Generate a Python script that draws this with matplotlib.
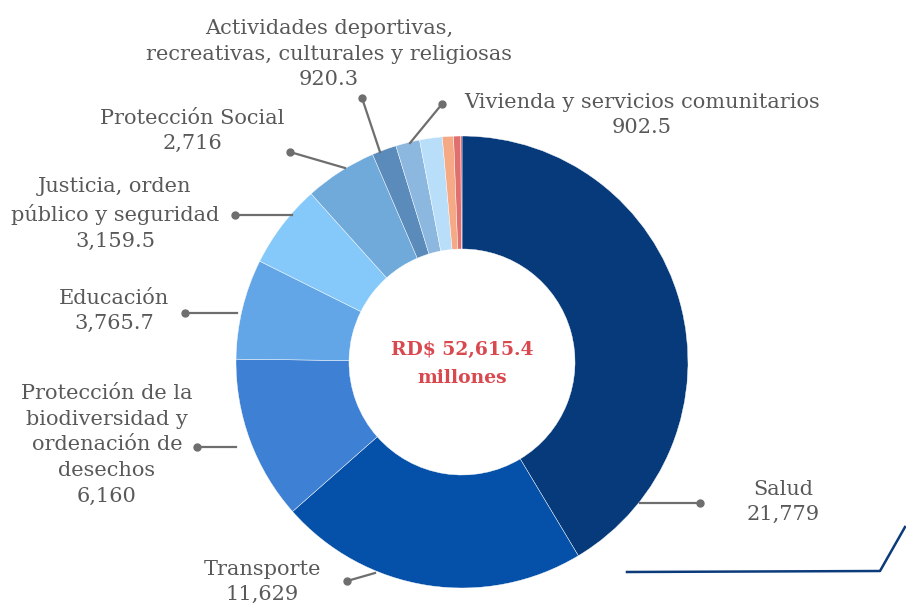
import numpy as np
import matplotlib.pyplot as plt

# datos (millones RD$), en el orden del anillo, desde arriba y en sentido horario
sectores = ["Salud", "Transporte",
            "Protección de la\nbiodiversidad y\nordenación de\ndesechos",
            "Educación", "Justicia, orden\npúblico y seguridad",
            "Protección Social",
            "Actividades deportivas,\nrecreativas, culturales y religiosas",
            "Vivienda y servicios comunitarios",
            "otro 1", "otro 2", "otro 3", "otro 4"]
valores = [21779, 11629, 6160, 3765.7, 3159.5, 2716, 920.3, 902.5, 850, 420, 270, 43]
etiquetas_valor = ["21,779", "11,629", "6,160", "3,765.7", "3,159.5", "2,716", "920.3", "902.5"]
colores = ["#063a7a", "#0550a8", "#3e80d3", "#62a6e8", "#85c8fa", "#6faadb",
           "#5b8bba", "#8cb8e0", "#b8defa", "#f5a985", "#e07070", "#c84050"]
total_txt = "RD$ 52,615.4\nmillones"

W, H = 906, 608
fig = plt.figure(figsize=(9.06, 6.08), dpi=100)
ax = fig.add_axes([0, 0, 1, 1])

cx, cy = 462, H - 362
ax.pie(valores, colors=colores, startangle=90, counterclock=False,
       radius=226, center=(cx, cy), frame=True,
       wedgeprops=dict(width=113, edgecolor="white", linewidth=0.3))
ax.set_xlim(0, W)
ax.set_ylim(0, H)
ax.set_aspect("equal")
ax.axis("off")

ax.text(cx, H - 364, total_txt, ha="center", va="center", color="#d9484e",
        fontsize=13.5, fontweight="bold", family="DejaVu Serif", linespacing=1.75)

gris = "#595959"
# (texto centrado x, y centro del bloque, punto, extremo en el anillo)
layout = [
    (783, 502, (700, 503), (640, 503)),
    (262, 582, (347, 581), (375, 573)),
    (107, 445, (197, 447), (236, 447)),
    (114, 311, (185, 313), (237, 313)),
    (115, 214, (235, 215), (292, 215)),
    (192, 131, (290, 152), (345, 168)),
    (329, 54, (362, 98), (380, 152)),
    (642, 115, (442, 104), (410, 143)),
]
for i, (tx, ty, dot, end) in enumerate(layout):
    txt = sectores[i] + "\n" + etiquetas_valor[i]
    ax.text(tx, H - ty, txt, ha="center", va="center", color=gris,
            fontsize=15, family="DejaVu Serif", linespacing=1.45)
    ax.plot([dot[0], end[0]], [H - dot[1], H - end[1]], color="#6e6e6e", lw=1.6)
    ax.plot(dot[0], H - dot[1], "o", color="#6e6e6e", ms=5)

# trazo decorativo abajo a la derecha
ax.plot([627, 880, 905], [H - 572, H - 571, H - 527], color="#0b3b7a", lw=1.8)

fig.savefig("out.png", dpi=100)
